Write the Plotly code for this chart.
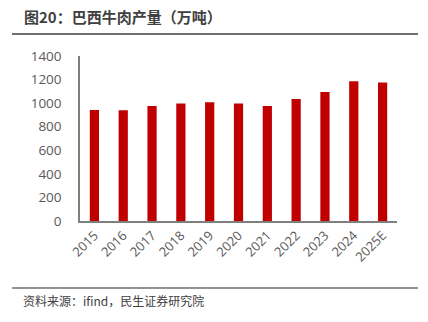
import plotly.graph_objects as go

years = ["2015", "2016", "2017", "2018", "2019", "2020", "2021", "2022", "2023", "2024", "2025E"]
production = [941, 939, 975, 998, 1007, 998, 975, 1035, 1094, 1185, 1176]
y_ticks = [0, 200, 400, 600, 800, 1000, 1200, 1400]

title_text = "图20：巴西牛肉产量（万吨）"
source_text = "资料来源：ifind，民生证券研究院"

fig = go.Figure()
fig.add_trace(go.Bar(
    x=years, y=production,
    marker=dict(color="#C00000", line=dict(width=0)),
    width=0.32,
))

fig.update_layout(
    width=428, height=322,
    margin=dict(l=80, r=31, t=56, b=101),
    paper_bgcolor="white", plot_bgcolor="white",
    showlegend=False,
    font=dict(family="Noto Sans CJK SC, Open Sans, sans-serif", color="#595959", size=13),
    xaxis=dict(
        type="category", tickangle=-45, showgrid=False,
        showline=True, linecolor="#7f7f7f", linewidth=1.5,
        ticks="", tickfont=dict(size=13, color="#595959", family="Open Sans"),
    ),
    yaxis=dict(
        range=[0, 1400], tickvals=y_ticks, showgrid=False, zeroline=False,
        showline=True, linecolor="#7f7f7f", linewidth=1.5,
        ticks="", ticklabelstandoff=14,
        tickfont=dict(size=13.5, color="#595959", family="Open Sans"),
    ),
    shapes=[
        dict(type="line", xref="paper", yref="paper", x0=-68/317, x1=338/317,
             y0=1 + 22/165, y1=1 + 22/165, line=dict(color="#6f6f6f", width=2)),
        dict(type="line", xref="paper", yref="paper", x0=-68/317, x1=338/317,
             y0=-67/165, y1=-67/165, line=dict(color="#6f6f6f", width=1.5)),
    ],
    annotations=[
        dict(text="<b>" + title_text + "</b>", xref="paper", yref="paper",
             x=-58/317, y=1 + 40/165, xanchor="left", yanchor="middle", showarrow=False,
             font=dict(size=15, color="#404040", family="Noto Sans CJK SC")),
        dict(text=source_text, xref="paper", yref="paper",
             x=-59/317, y=-79/165, xanchor="left", yanchor="middle", showarrow=False,
             font=dict(size=12, color="#404040", family="Noto Sans CJK SC")),
    ],
)

fig.write_html("out.html")
